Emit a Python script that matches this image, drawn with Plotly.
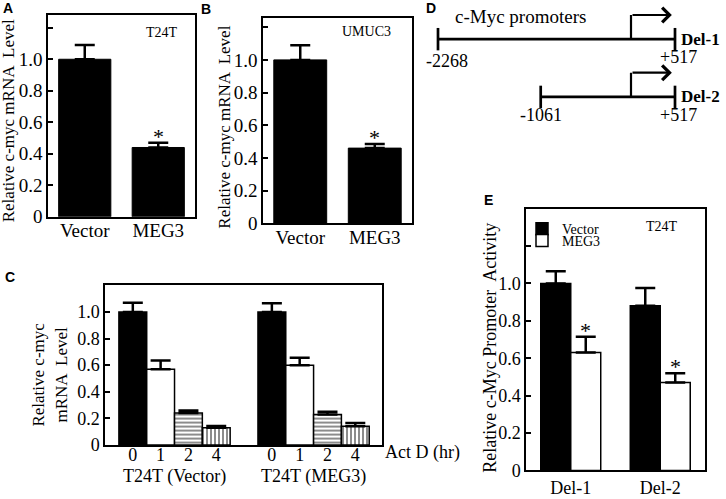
import plotly.graph_objects as go

# ---------------- data ----------------
# Panel A (T24T)
a_cats = ["Vector", "MEG3"]
a_vals = [1.00, 0.44]
a_errs = [0.09, 0.03]
# Panel B (UMUC3)
b_cats = ["Vector", "MEG3"]
b_vals = [1.00, 0.46]
b_errs = [0.09, 0.025]
# Panel C (Act D time course)
c_groups = ["T24T (Vector)", "T24T (MEG3)"]
c_times = ["0", "1", "2", "4"]
c_vals = [[1.00, 0.57, 0.24, 0.13],
          [1.00, 0.60, 0.23, 0.14]]
c_errs = [[0.07, 0.065, 0.02, 0.012],
          [0.065, 0.055, 0.02, 0.025]]
# Panel D (promoter constructs, bp)
d_names = ["Del-1", "Del-2"]
d_starts = [-2268, -1061]
d_ends = [517, 517]
# Panel E (promoter activity)
e_cats = ["Del-1", "Del-2"]
e_vector = [1.00, 0.88]
e_vector_err = [0.065, 0.095]
e_meg3 = [0.63, 0.47]
e_meg3_err = [0.085, 0.05]

# ---------------- styling helpers ----------------
W, H = 726, 499
SERIF = "Liberation Serif"
def px(x):
    return x / W
def py(y):
    return 1 - y / H

fig = go.Figure()

def frame_axes(n, xdom, ydom, yrange, tickvals, ticktext, fsize, xkw=None):
    xa = dict(domain=xdom, showline=True, mirror=True, linecolor="black", linewidth=1.5,
              ticks="", showgrid=False, zeroline=False,
              tickfont=dict(family=SERIF, size=fsize, color="black"))
    if xkw:
        xa.update(xkw)
    ya = dict(domain=ydom, range=yrange, showline=True, mirror=True, linecolor="black",
              linewidth=1.5, ticks="inside", ticklen=5, tickwidth=1.5, tickcolor="black",
              showgrid=False, zeroline=False, tickvals=tickvals, ticktext=ticktext,
              tickfont=dict(family=SERIF, size=fsize, color="black"), anchor="x" + ("" if n == 1 else str(n)))
    xa["anchor"] = "y" + ("" if n == 1 else str(n))
    fig.update_layout(**{("xaxis" if n == 1 else f"xaxis{n}"): xa,
                         ("yaxis" if n == 1 else f"yaxis{n}"): ya})

errstyle = dict(type="data", symmetric=False, color="black", thickness=2.5, width=10)

# ---- Panel A ----
fig.add_trace(go.Bar(x=a_cats, y=a_vals, width=0.71, marker=dict(color="black", line=dict(color="black", width=1)),
                     error_y=dict(array=a_errs, arrayminus=[0] * len(a_vals), **errstyle),
                     showlegend=False, xaxis="x", yaxis="y"))
frame_axes(1, [px(48), px(195)], [py(221.7), py(15)], [0, 1.283],
           [0, 0.2, 0.4, 0.6, 0.8, 1.0, 1.2], ["0", "0.2", "0.4", "0.6", "0.8", "1.0", ""], 19,
           dict(range=[-0.5, 1.5], ticklabelstandoff=-4))

# ---- Panel B ----
fig.add_trace(go.Bar(x=b_cats, y=b_vals, width=0.71, marker=dict(color="black", line=dict(color="black", width=1)),
                     error_y=dict(array=b_errs, arrayminus=[0] * len(b_vals), **errstyle),
                     showlegend=False, xaxis="x2", yaxis="y2"))
frame_axes(2, [px(263), px(412)], [py(228.3), py(18.3)], [0, 1.257],
           [0, 0.2, 0.4, 0.6, 0.8, 1.0, 1.2], ["0", "0.2", "0.4", "0.6", "0.8", "1.0", ""], 19,
           dict(range=[-0.5, 1.5], ticklabelstandoff=-4))

# ---- Panel C ----
patterns = [dict(shape=""), dict(shape=""), dict(shape="-", size=4, solidity=0.45, fgcolor="black", bgcolor="white"),
            dict(shape="|", size=4, solidity=0.45, fgcolor="black", bgcolor="white")]
fills = ["black", "white", "white", "white"]
nt = len(c_times)
c_tickvals, c_ticktext = [], []
for gi, g in enumerate(c_groups):
    for ti, t in enumerate(c_times):
        c_tickvals.append(gi * (nt + 1) + ti)
        c_ticktext.append(t)
for ti, t in enumerate(c_times):
    xs = [gi * (nt + 1) + ti for gi in range(len(c_groups))]
    ys = [c_vals[gi][ti] for gi in range(len(c_groups))]
    es = [c_errs[gi][ti] for gi in range(len(c_groups))]
    fig.add_trace(go.Bar(x=xs, y=ys, width=1.0,
                         marker=dict(color=fills[ti], line=dict(color="black", width=1.5), pattern=patterns[ti]),
                         error_y=dict(array=es, arrayminus=[0] * len(es), **errstyle),
                         showlegend=False, xaxis="x3", yaxis="y3"))
frame_axes(3, [px(105), px(382)], [py(455), py(291)], [0, 1.206],
           [0, 0.2, 0.4, 0.6, 0.8, 1.0], ["0", "0.2", "0.4", "0.6", "0.8", "1.0"], 18,
           dict(range=[-1, 8.96], tickvals=c_tickvals, ticktext=c_ticktext, showline=True,
                ticklabelstandoff=-7))

# ---- Panel D (diagram) ----
rows = [0.692, 0.238]
rise = 0.19
arrow_end = 480
fig.update_layout(
    xaxis4=dict(domain=[px(438), px(675)], range=[-2268, 517], visible=False, anchor="y4"),
    yaxis4=dict(domain=[py(130), 1], range=[0, 1], visible=False, anchor="x4"),
)
for i, name in enumerate(d_names):
    r = rows[i]
    fig.add_trace(go.Scatter(x=[d_starts[i], d_ends[i]], y=[r, r], mode="lines+markers",
                             line=dict(color="black", width=2.7),
                             marker=dict(symbol="line-ns", size=16, line=dict(color="black", width=2.7)),
                             cliponaxis=False, showlegend=False, hoverinfo="skip",
                             xaxis="x4", yaxis="y4"))
    fig.add_trace(go.Scatter(x=[0, 0], y=[r, r + rise], mode="lines",
                             line=dict(color="black", width=2.2), cliponaxis=False,
                             showlegend=False, hoverinfo="skip", xaxis="x4", yaxis="y4"))
    fig.add_annotation(x=arrow_end, y=r + rise, ax=0, ay=r + rise, xref="x4", yref="y4",
                       axref="x4", ayref="y4", showarrow=True, arrowhead=4, arrowsize=1.3,
                       arrowwidth=2.2, arrowcolor="black", text="", standoff=0, startstandoff=0)
    fig.add_annotation(x=d_ends[i], y=r, xref="x4", yref="y4", text="<b>%s</b>" % name,
                       showarrow=False, xanchor="left", yanchor="middle", xshift=4,
                       font=dict(family=SERIF, size=17, color="black"))
    fig.add_annotation(x=d_ends[i], y=r, xref="x4", yref="y4", text="+%d" % d_ends[i],
                       showarrow=False, xanchor="center", yanchor="middle", yshift=-18, xshift=3,
                       font=dict(family=SERIF, size=18, color="black"))
    fig.add_annotation(x=d_starts[i], y=r, xref="x4", yref="y4", text="%d" % d_starts[i],
                       showarrow=False, xanchor="center", yanchor="middle",
                       yshift=-22 if i == 0 else -18, xshift=9 if i == 0 else 0,
                       font=dict(family=SERIF, size=18, color="black"))

# ---- Panel E ----
fig.add_trace(go.Bar(x=e_cats, y=e_vector, name="Vector", legend="legend",
                     marker=dict(color="black", line=dict(color="black", width=1.5)),
                     error_y=dict(array=e_vector_err, arrayminus=[0] * 2, **errstyle),
                     xaxis="x5", yaxis="y5"))
fig.add_trace(go.Bar(x=e_cats, y=e_meg3, name="MEG3", legend="legend2",
                     marker=dict(color="white", line=dict(color="black", width=1.5)),
                     error_y=dict(array=e_meg3_err, arrayminus=[0] * 2, **errstyle),
                     xaxis="x5", yaxis="y5"))
frame_axes(5, [px(526), px(705)], [py(481), py(213.3)], [0, 1.40],
           [0, 0.2, 0.4, 0.6, 0.8, 1.0, 1.2], ["0", "0.2", "0.4", "0.6", "0.8", "1.0", ""], 18,
           dict(range=[-0.5, 1.5]))

# ---- asterisks ----
def star(xref, yref, x, y, xshift=0, size=22):
    fig.add_annotation(x=x, y=y, xref=xref, yref=yref, text="*", showarrow=False,
                       xanchor="center", yanchor="bottom", yshift=-8, xshift=xshift,
                       font=dict(family=SERIF, size=size, color="black"))
star("x", "y", a_cats[1], a_vals[1] + a_errs[1])
star("x2", "y2", b_cats[1], b_vals[1] + b_errs[1])
for i, c in enumerate(e_cats):
    star("x5", "y5", c, e_meg3[i] + e_meg3_err[i], xshift=15)

# ---- texts ----
def txt(x, y, s, size=17, angle=0, xanchor="center"):
    fig.add_annotation(x=px(x), y=py(y), xref="paper", yref="paper", text=s, showarrow=False,
                       textangle=angle, xanchor=xanchor, yanchor="middle",
                       font=dict(family=SERIF, size=size, color="black"))

txt(8.5, 123.5, "Relative c-myc mRNA  Level", 17, -90)
txt(224.5, 130, "Relative c-myc mRNA  Level", 17, -90)
txt(50, 383, "Relative c-myc<br>mRNA  Level", 17, -90)
txt(490, 355.5, "Relative c-Myc Promoter  Activity", 18, -90)
txt(162, 33, "T24T", 14)
txt(366, 32, "UMUC3", 14)
txt(662, 232, "T24T", 14)
txt(383, 463, "Act D (hr)", 18, xanchor="left")
txt(520, 17, "c-Myc promoters", 19)
for gi, g in enumerate(c_groups):
    fig.add_annotation(x=gi * (nt + 1) + (nt - 1) / 2, y=py(487), xref="x3", yref="paper", text=g,
                       showarrow=False, xanchor="center", yanchor="middle",
                       font=dict(family=SERIF, size=18, color="black"))

for lab, (x, y) in zip("ABCDE", [(8, 8), (206, 9), (10, 283), (431, 8), (488, 204)]):
    fig.add_annotation(x=px(x), y=py(y), xref="paper", yref="paper", text="<b>%s</b>" % lab,
                       showarrow=False, xanchor="center", yanchor="middle",
                       font=dict(family="Liberation Sans", size=14, color="black"))

legfont = dict(family=SERIF, size=14, color="black")
fig.update_layout(
    width=W, height=H, margin=dict(l=0, r=0, t=0, b=0),
    paper_bgcolor="white", plot_bgcolor="white",
    barmode="group", bargap=0.33, bargroupgap=0,
    legend=dict(x=px(522), y=py(218), xanchor="left", yanchor="top", bgcolor="rgba(0,0,0,0)",
                font=legfont, itemwidth=30),
    legend2=dict(x=px(522), y=py(230), xanchor="left", yanchor="top", bgcolor="rgba(0,0,0,0)",
                 font=legfont, itemwidth=30),
)

post = (
    "var s=document.createElement('style');"
    "s.textContent='html,body{margin:0;padding:0;overflow:hidden;width:726px;height:499px;}';"
    "document.head.appendChild(s);"
)
fig.write_html("out.html", config={"displayModeBar": False}, post_script=post)
